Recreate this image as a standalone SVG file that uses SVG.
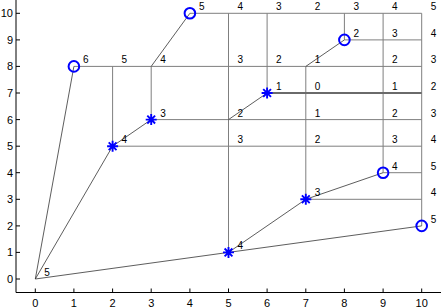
<svg xmlns="http://www.w3.org/2000/svg" width="441" height="307" viewBox="0 0 441 307">
<style>
  .grid { stroke: #7f7f7f; stroke-width: 1; fill: none; }
  .thick { stroke: #6a6a6a; stroke-width: 2.2; fill: none; }
  .diag { stroke: #333; stroke-width: 0.8; fill: none; }
  .axis { stroke: #000; stroke-width: 1; fill: none; }
  .tick { font-family: "Liberation Sans", Arial, sans-serif; font-size: 11px; fill: #000; }
  .lbl { font-family: "Liberation Sans", Arial, sans-serif; font-size: 10px; fill: #000; }
  .circ { stroke: #0000ff; stroke-width: 2; fill: none; }
  .star { stroke: #0000ff; stroke-width: 1.9; fill: none; }
</style>
<defs>
  <g id="starM">
    <path d="M-5.5 0H5.5M0 -5.5V5.5M-3.9 -3.9L3.9 3.9M-3.9 3.9L3.9 -3.9"/>
  </g>
</defs>
<rect width="441" height="307" fill="#fff"/>

<g id="axes">
  <path class="axis" d="M16 0V292.5H441"/>
  <path class="axis" d="M16 279H20M16 252.4H20M16 225.9H20M16 199.3H20M16 172.7H20M16 146.2H20M16 119.6H20M16 93H20M16 66.4H20M16 39.9H20M16 13.3H20"/>
  <path class="axis" d="M35.3 292.5V288.5M73.9 292.5V288.5M112.6 292.5V288.5M151.2 292.5V288.5M189.9 292.5V288.5M228.5 292.5V288.5M267.1 292.5V288.5M305.8 292.5V288.5M344.4 292.5V288.5M383.1 292.5V288.5M421.7 292.5V288.5"/>
  <g class="tick" text-anchor="end">
    <text x="13" y="283">0</text>
    <text x="13" y="256.4">1</text>
    <text x="13" y="229.9">2</text>
    <text x="13" y="203.3">3</text>
    <text x="13" y="176.7">4</text>
    <text x="13" y="150.2">5</text>
    <text x="13" y="123.6">6</text>
    <text x="13" y="97">7</text>
    <text x="13" y="70.4">8</text>
    <text x="13" y="43.9">9</text>
    <text x="13" y="17.3">10</text>
  </g>
  <g class="tick" text-anchor="middle">
    <text x="35.3" y="306.5">0</text>
    <text x="73.9" y="306.5">1</text>
    <text x="112.6" y="306.5">2</text>
    <text x="151.2" y="306.5">3</text>
    <text x="189.9" y="306.5">4</text>
    <text x="228.5" y="306.5">5</text>
    <text x="267.1" y="306.5">6</text>
    <text x="305.8" y="306.5">7</text>
    <text x="344.4" y="306.5">8</text>
    <text x="383.1" y="306.5">9</text>
    <text x="421.7" y="306.5">10</text>
  </g>
</g>

<g id="connectors">
  <path class="grid" d="M189.9 13.3H421.7M344.4 39.9H421.7M73.9 66.4H421.7M151.2 119.6H421.7M112.6 146.2H421.7M383.1 172.7H421.7M305.8 199.3H421.7"/>
  <path class="grid" d="M112.6 146.2V66.4M151.2 119.6V66.4M228.5 252.4V13.3M267.1 93V13.3M305.8 199.3V66.4M344.4 39.9V13.3M383.1 172.7V13.3M421.7 225.9V13.3"/>
  <path class="thick" d="M267.1 93H421.7"/>
  <path class="diag" d="M35.3 279L73.9 66.4M35.3 279L112.6 146.2M35.3 279L228.5 252.4L421.7 225.9M112.6 146.2L151.2 119.6M151.2 66.4L189.9 13.3M228.5 119.6L267.1 93M305.8 66.4L344.4 39.9M228.5 252.4L305.8 199.3L383.1 172.7"/>
</g>

<g id="n_origin"><text class="lbl" x="44.3" y="276">5</text></g>
<g id="n_1_8"><circle class="circ" cx="73.9" cy="66.4" r="5.3"/><text class="lbl" x="82.9" y="63.4">6</text></g>
<g id="n_4_10"><circle class="circ" cx="189.9" cy="13.3" r="5.3"/><text class="lbl" x="198.9" y="10.3">5</text></g>
<g id="n_8_9"><circle class="circ" cx="344.4" cy="39.9" r="5.3"/><text class="lbl" x="353.4" y="36.9">2</text></g>
<g id="n_9_4"><circle class="circ" cx="383.1" cy="172.7" r="5.3"/><text class="lbl" x="392.1" y="169.7">4</text></g>
<g id="n_10_2"><circle class="circ" cx="421.7" cy="225.9" r="5.3"/><text class="lbl" x="430.7" y="222.9">5</text></g>
<g id="n_2_5"><use href="#starM" class="star" x="112.6" y="146.2"/><text class="lbl" x="121.6" y="143.2">4</text></g>
<g id="n_3_6"><use href="#starM" class="star" x="151.2" y="119.6"/><text class="lbl" x="160.2" y="116.6">3</text></g>
<g id="n_6_7"><use href="#starM" class="star" x="267.1" y="93"/><text class="lbl" x="276.1" y="90">1</text></g>
<g id="n_7_3"><use href="#starM" class="star" x="305.8" y="199.3"/><text class="lbl" x="314.8" y="196.3">3</text></g>
<g id="n_5_1"><use href="#starM" class="star" x="228.5" y="252.4"/><text class="lbl" x="237.5" y="249.4">4</text></g>

<g id="labels" class="lbl">
  <text x="237.5" y="10.3">4</text>
  <text x="276.1" y="10.3">3</text>
  <text x="314.8" y="10.3">2</text>
  <text x="353.4" y="10.3">3</text>
  <text x="392.1" y="10.3">4</text>
  <text x="430.7" y="10.3">5</text>
  <text x="392.1" y="36.9">3</text>
  <text x="430.7" y="36.9">4</text>
  <text x="121.6" y="63.4">5</text>
  <text x="160.2" y="63.4">4</text>
  <text x="237.5" y="63.4">3</text>
  <text x="276.1" y="63.4">2</text>
  <text x="314.8" y="63.4">1</text>
  <text x="392.1" y="63.4">2</text>
  <text x="430.7" y="63.4">3</text>
  <text x="314.8" y="90">0</text>
  <text x="392.1" y="90">1</text>
  <text x="430.7" y="90">2</text>
  <text x="237.5" y="116.6">2</text>
  <text x="314.8" y="116.6">1</text>
  <text x="392.1" y="116.6">2</text>
  <text x="430.7" y="116.6">3</text>
  <text x="237.5" y="143.2">3</text>
  <text x="314.8" y="143.2">2</text>
  <text x="392.1" y="143.2">3</text>
  <text x="430.7" y="143.2">4</text>
  <text x="430.7" y="169.7">5</text>
  <text x="430.7" y="196.3">4</text>
</g>
</svg>
